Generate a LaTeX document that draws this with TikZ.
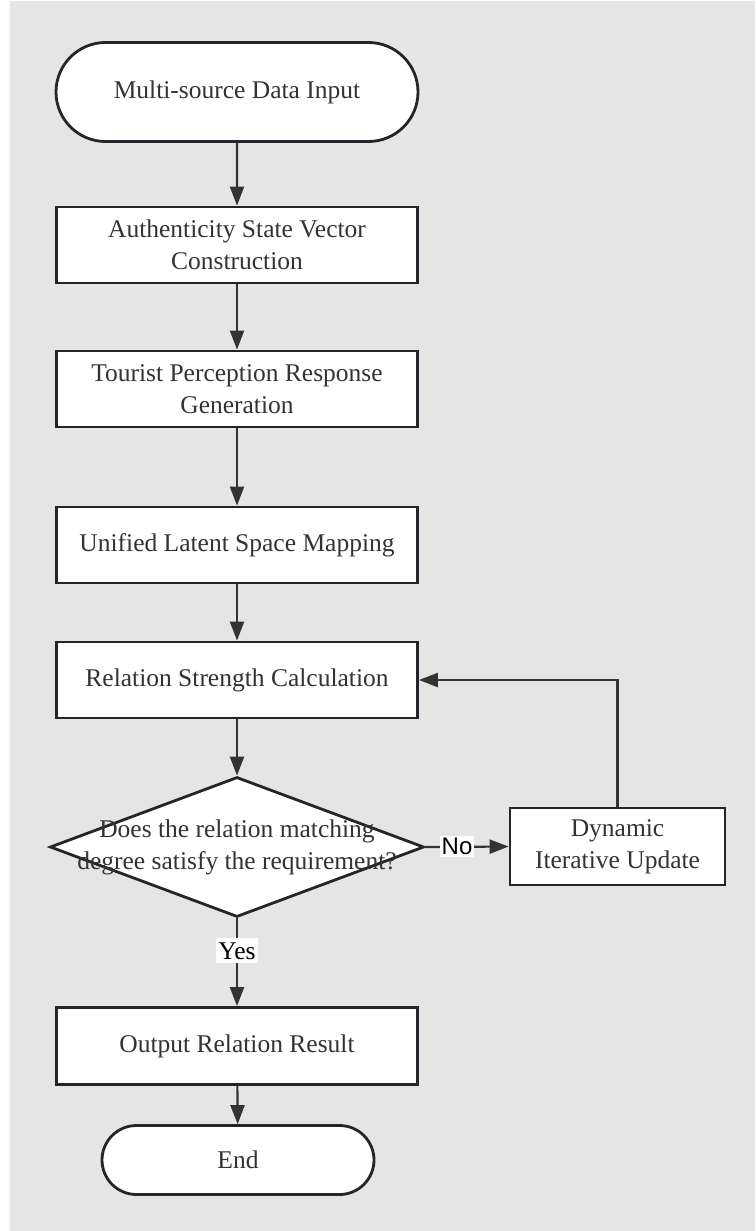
\documentclass[tikz,border=0pt]{standalone}
\usepackage{fontspec}
\setmainfont{Liberation Serif}
\newfontfamily\labsans{Liberation Sans}
\usetikzlibrary{arrows.meta,positioning,shapes.geometric,shapes.misc}
\definecolor{bggray}{HTML}{E5E5E5}
\definecolor{edgec}{HTML}{22262B}
\definecolor{linec}{HTML}{333333}
\begin{document}
\begin{tikzpicture}[x=1pt,y=-1pt,>={Triangle[length=19pt,width=14pt]},
 font=\fontsize{25.5}{32}\selectfont,
 proc/.style={draw=edgec,line width=2.8pt,fill=white,minimum width=361pt,minimum height=76pt,align=center,text=linec,inner sep=0pt},
 term/.style={rounded rectangle,draw=edgec,line width=2.8pt,fill=white,align=center,text=linec,inner sep=0pt},
 decide/.style={diamond,draw=edgec,line width=2.8pt,fill=white,minimum width=374pt,minimum height=140pt,inner sep=0pt},
 flow/.style={->,line width=2.2pt,draw=linec},
 lab/.style={fill=white,inner xsep=2pt,inner ysep=4pt,text=black}]
\useasboundingbox (0,0) rectangle (755,1231);
\fill[bggray] (10,1) rectangle (755,1231);
% main column
\node[term,minimum width=362pt,minimum height=99pt] (start) at (237,92) {Multi-source Data Input};
\node[proc] (asv) at (237,245) {Authenticity State Vector\\Construction};
\node[proc] (tpr) at (237,389) {Tourist Perception Response\\Generation};
\node[proc] (ulm) at (237,545) {Unified Latent Space Mapping};
\node[proc] (rsc) at (237,680) {Relation Strength Calculation};
\node[decide] (dec) at (237,847) {};
\node[align=center,text=linec] (dectext) at (dec.center) {Does the relation matching\\degree satisfy the requirement?};
\node[proc,minimum width=215pt,minimum height=77pt] (diu) at (617.5,846.5) {Dynamic\\Iterative Update};
\node[proc,minimum height=77pt] (orr) at (237,1046) {Output Relation Result};
\node[term,minimum width=272pt,minimum height=69pt] (fin) at (238,1160) {End};
% connectors
\draw[flow] (start) -- (asv);
\draw[flow] (asv) -- (tpr);
\draw[flow] (tpr) -- (ulm);
\draw[flow] (ulm) -- (rsc);
\draw[flow] (rsc) -- (dec);
\draw[flow] (dec.east) -- node[lab,pos=0.38,inner ysep=2pt,font=\labsans\fontsize{24}{28}\selectfont] (no) {No} (diu.west);
\draw[flow] (diu.north) |- (rsc.east);
\draw[flow] (dec.south) -- node[lab,pos=0.37] (yes) {Yes} (orr.north);
\draw[flow] (orr) -- (fin);
\end{tikzpicture}
\end{document}
